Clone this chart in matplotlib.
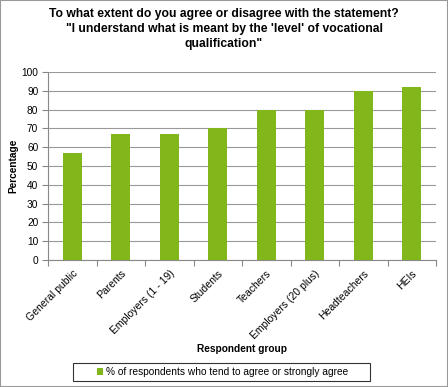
import matplotlib.pyplot as plt
import numpy as np

groups = ['General public', 'Parents', 'Employers (1 - 19)', 'Students', 'Teachers',
          'Employers (20 plus)', 'Headteachers', 'HEIs']
agree = [57, 67, 67, 70, 80, 80, 90, 92]
series_name = '% of respondents who tend to agree or strongly agree'

plt.rcParams['font.family'] = ['Liberation Sans', 'DejaVu Sans']

W, H = 448, 387
fig = plt.figure(figsize=(W / 100, H / 100), dpi=100)
ax = fig.add_axes([48 / W, 1 - 260 / H, 388 / W, 188 / H])

x = np.arange(len(groups))
ax.bar(x, agree, width=0.4, color='#82b71b', label=series_name, zorder=3)

ax.set_xlim(-0.5, len(groups) - 0.5)
ax.set_ylim(0, 100)
ax.set_yticks(range(0, 101, 10))
ax.tick_params(axis='y', labelsize=7.3, length=4, color='#888888', pad=3)
ax.set_xticks(np.arange(-0.5, len(groups), 1), minor=False)
ax.set_xticklabels([])
ax.set_xticks(x, minor=True)
ax.set_xticklabels(groups, minor=True, rotation=45, ha='right', rotation_mode='anchor', fontsize=7.5)
ax.tick_params(axis='x', which='major', length=4, color='#888888')
ax.tick_params(axis='x', which='minor', length=0, pad=6)
ax.grid(axis='y', color='#999999', linewidth=0.8, zorder=0)
for s in ['top', 'right']:
    ax.spines[s].set_visible(False)
ax.spines['left'].set_color('#888888')
ax.spines['bottom'].set_color('#888888')

ax.set_ylabel('Percentage', fontsize=7.3, fontweight='bold', labelpad=2)
ax.set_xlabel('Respondent group', fontsize=7.3, fontweight='bold', labelpad=2)
fig.text(0.5, 0.98, "To what extent do you agree or disagree with the statement?\n"
         "\"I understand what is meant by the 'level' of vocational\nqualification\"",
         ha='center', va='top', fontsize=8.7, fontweight='bold', linespacing=1.35)

leg = fig.legend(loc='center', bbox_to_anchor=(223 / W, 1 - 372 / H), fontsize=7.3,
                 frameon=False, handlelength=0.6, handleheight=0.6, handletextpad=0.3,
                 borderpad=0, borderaxespad=0)
fig.patches.append(plt.Rectangle((73 / W, 1 - 381 / H), 297 / W, 18 / H,
                                 transform=fig.transFigure, fill=False,
                                 edgecolor='#333333', linewidth=0.8))

fig.patches.append(plt.Rectangle((0, 0), 1, 1, transform=fig.transFigure, fill=False,
                                 edgecolor='#999999', linewidth=1.5))

fig.savefig('out.png', dpi=100)
